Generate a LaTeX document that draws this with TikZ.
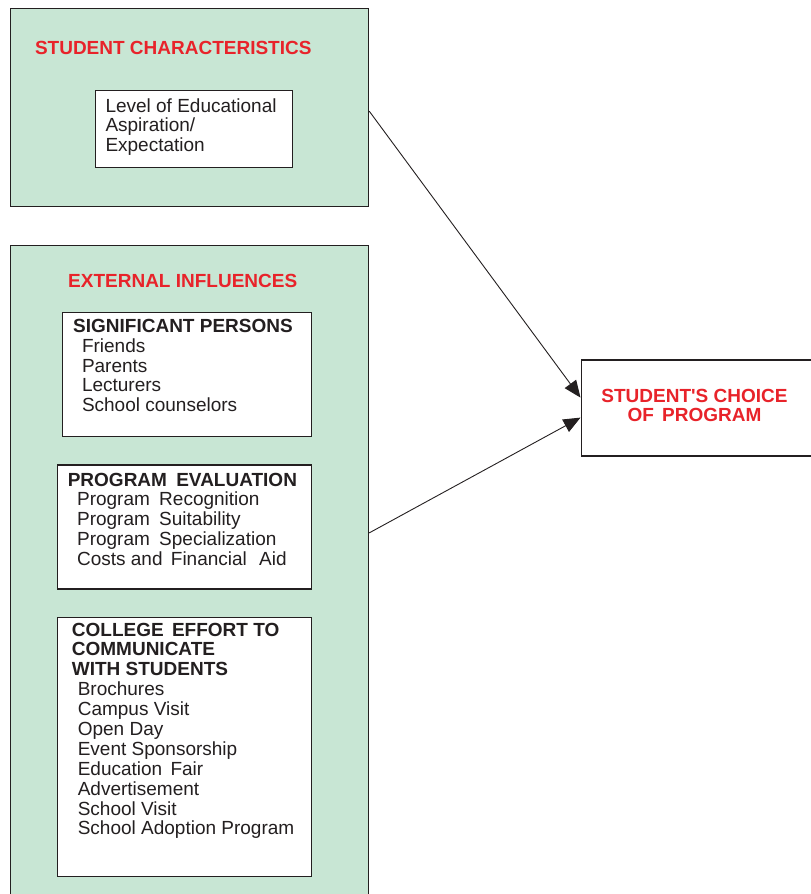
\documentclass[tikz,border=0pt]{standalone}
\usepackage{fontspec}
\setmainfont{Liberation Sans}
\usetikzlibrary{arrows.meta}
\definecolor{boxgreen}{RGB}{200,230,212}
\definecolor{titlered}{RGB}{232,35,42}
\definecolor{ink}{RGB}{35,31,32}
\begin{document}
\begin{tikzpicture}[x=1pt,y=-1pt,
  outer/.style={draw=ink,line width=1.2pt,fill=boxgreen,rectangle,anchor=north west,inner sep=0pt},
  inner/.style={draw=ink,line width=1.2pt,fill=white,rectangle,anchor=north west,inner sep=0pt},
  txt/.style={anchor=base west,inner sep=0pt,align=left,text=ink,font=\fontsize{19}{19.8}\selectfont},
  red/.style={anchor=base west,inner sep=0pt,text=titlered,font=\fontsize{19}{19.6}\selectfont\bfseries},
  link/.style={draw=ink,line width=0.9pt,-{Triangle[length=17pt,width=14pt]}}]
\useasboundingbox (0,0) rectangle (811,894);
% outer boxes
\node[outer,minimum width=358pt,minimum height=198pt] (sc) at (10,7.5) {};
\node[outer,minimum width=358pt,minimum height=680pt] (ext) at (10,245) {};
% inner boxes
\node[inner,minimum width=196.5pt,minimum height=76.5pt] (lev) at (95,90) {};
\node[inner,minimum width=249pt,minimum height=124pt] (sp) at (61.5,311.7) {};
\node[inner,minimum width=254pt,minimum height=124pt] (pe) at (56.7,464.3) {};
\node[inner,minimum width=254pt,minimum height=259.3pt] (ce) at (56.7,616.7) {};
\node[inner,minimum width=230pt,minimum height=96pt] (ch) at (580.5,359.3) {};
% titles
\node[red] (sctitle) at (34.8,54.3) {STUDENT CHARACTERISTICS};
\node[red] (exttitle) at (68,287.3) {EXTERNAL INFLUENCES};
% text (anchored at the baseline of the last line)
\node[txt] (levtxt) at (105.3,151.6) {Level of Educational\\Aspiration/\\Expectation};
\node[txt,font=\fontsize{19}{19.8}\selectfont\bfseries] (sphead) at (73,332.3) {SIGNIFICANT PERSONS};
\node[txt] (sptxt) at (81.8,411.6) {Friends\\Parents\\Lecturers\\School counselors};
\node[txt,font=\fontsize{19}{19.8}\selectfont\bfseries] (pehead) at (67.6,486) {PROGRAM\hspace{4pt} EVALUATION};
\node[txt] (petxt) at (76.9,565.2) {Program\hspace{4pt} Recognition\\Program\hspace{4pt} Suitability\\Program\hspace{4pt} Specialization\\Costs and\hspace{3pt} Financial\hspace{7pt} Aid};
\node[txt,font=\fontsize{19}{19.9}\selectfont\bfseries] (cehead) at (71.7,675.8) {COLLEGE\hspace{3pt} EFFORT TO\\COMMUNICATE\\WITH STUDENTS};
\node[txt,font=\fontsize{19}{19.9}\selectfont] (cetxt) at (77.6,834.9) {Brochures\\Campus Visit\\Open Day\\Event Sponsorship\\Education\hspace{3pt} Fair\\Advertisement\\School Visit\\School Adoption Program};
\node[red,anchor=base,align=center] (chtxt) at (694.5,421.7) {STUDENT\textquotesingle S CHOICE\\OF\hspace{3pt} PROGRAM};
% connectors
\draw[link] ([yshift=-4pt]sc.east) -- ([yshift=10.3pt]ch.west);
\draw[link] ([yshift=-6pt]pe.center -| ext.east) -- ([yshift=-9.7pt]ch.west);
\end{tikzpicture}
\end{document}
